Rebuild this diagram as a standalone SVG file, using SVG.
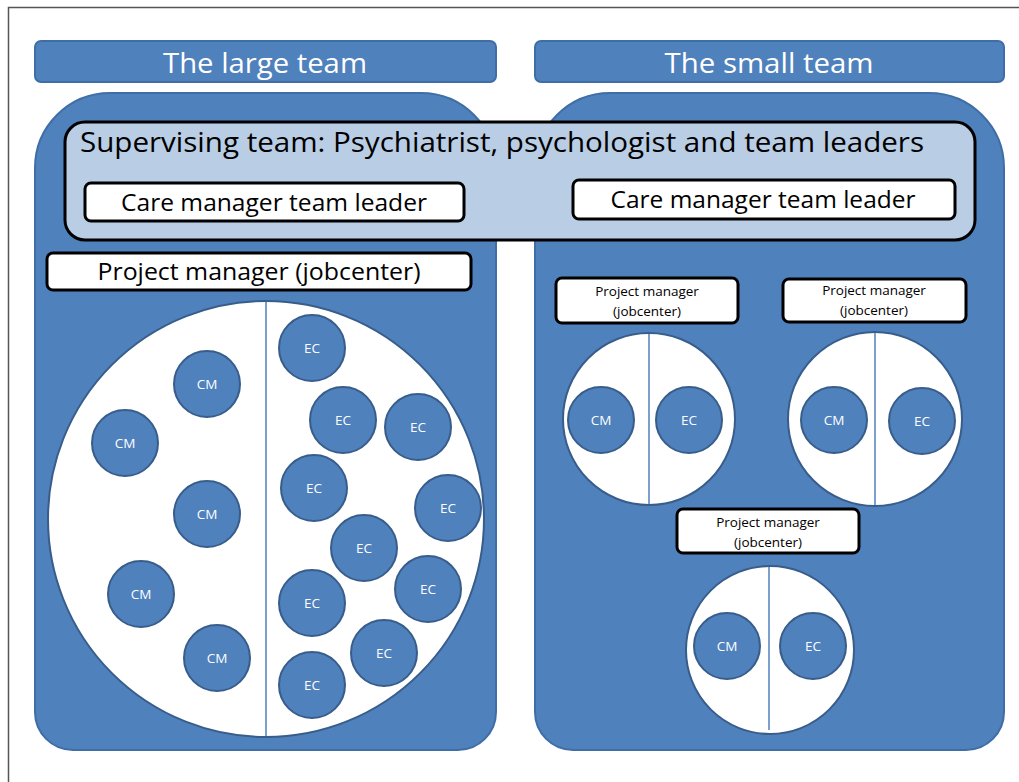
<svg xmlns="http://www.w3.org/2000/svg" width="1019" height="782" viewBox="0 0 1019 782">
<style>
text{font-family:"Open Sans","Liberation Sans",sans-serif}
.bar{fill:#4f81bd;stroke:#3f6ea6;stroke-width:2}
.cont{fill:#4f81bd;stroke:#3f6ea6;stroke-width:2}
.title{fill:#fff;font-size:28px;text-anchor:middle}
.box{fill:#fff;stroke:#000;stroke-width:3}
.lbl{fill:#000;font-size:23px;text-anchor:middle}
.sm{fill:#000;font-size:13.5px;text-anchor:middle}
.pool{fill:#fff;stroke:#385d8a;stroke-width:2}
.div{stroke:#4f81bd;stroke-width:1.5}
.p{fill:#4f81bd;stroke:#385d8a;stroke-width:2}
.pt{fill:#fff;font-size:13.5px;text-anchor:middle}
</style>
<rect x="0" y="0" width="1019" height="782" fill="#fff"/>
<path d="M8.5 782 V7.5 H1019" fill="none" stroke="#555" stroke-width="1.5"/>

<g id="title-large"><rect class="bar" x="35" y="41" width="461" height="41" rx="6"/><text class="title" x="265" y="73" textLength="204" lengthAdjust="spacingAndGlyphs">The large team</text></g>
<g id="title-small"><rect class="bar" x="535" y="41" width="469" height="41" rx="6"/><text class="title" x="769" y="73" textLength="209" lengthAdjust="spacingAndGlyphs">The small team</text></g>

<g id="large-team"><path class="cont" d="M35 168 A75 75 0 0 1 110 93 H421 A75 75 0 0 1 496 168 V712 A38 38 0 0 1 458 750 H73 A38 38 0 0 1 35 712 Z"/></g>
<g id="small-team"><path class="cont" d="M535 168 A75 75 0 0 1 610 93 H929 A75 75 0 0 1 1004 168 V712 A38 38 0 0 1 966 750 H573 A38 38 0 0 1 535 712 Z"/></g>

<g id="supervising"><rect x="65" y="122" width="910" height="118" rx="20" fill="#b9cde5" stroke="#000" stroke-width="3"/><text x="80" y="152" font-size="28" fill="#000" textLength="844" lengthAdjust="spacingAndGlyphs">Supervising team: Psychiatrist, psychologist and team leaders</text></g>
<g id="cm-leader-left"><rect class="box" x="85" y="183" width="379" height="38" rx="6"/><text class="lbl" x="274" y="211" textLength="306" lengthAdjust="spacingAndGlyphs">Care manager team leader</text></g>
<g id="cm-leader-right"><rect class="box" x="573" y="180" width="382" height="39" rx="6"/><text class="lbl" x="763" y="208" textLength="305" lengthAdjust="spacingAndGlyphs">Care manager team leader</text></g>

<g id="pm-large"><rect class="box" x="47" y="253" width="424" height="37" rx="6"/><text class="lbl" x="259" y="280" textLength="323" lengthAdjust="spacingAndGlyphs">Project manager (jobcenter)</text></g>

<g id="pool-large">
<circle class="pool" cx="266" cy="519" r="218"/>
<line class="div" x1="266" y1="302" x2="266" y2="736"/>
</g>
<g id="large-members">
<circle class="p" cx="207" cy="384" r="33"/><text class="pt" x="207" y="389">CM</text>
<circle class="p" cx="125" cy="443" r="33"/><text class="pt" x="125" y="448">CM</text>
<circle class="p" cx="207" cy="514" r="33"/><text class="pt" x="207" y="519">CM</text>
<circle class="p" cx="141" cy="594" r="33"/><text class="pt" x="141" y="599">CM</text>
<circle class="p" cx="217" cy="658" r="33"/><text class="pt" x="217" y="663">CM</text>
<circle class="p" cx="312" cy="348" r="33"/><text class="pt" x="312" y="353">EC</text>
<circle class="p" cx="343" cy="420" r="33"/><text class="pt" x="343" y="425">EC</text>
<circle class="p" cx="418" cy="427" r="33"/><text class="pt" x="418" y="432">EC</text>
<circle class="p" cx="314" cy="488" r="33"/><text class="pt" x="314" y="493">EC</text>
<circle class="p" cx="448" cy="508" r="33"/><text class="pt" x="448" y="513">EC</text>
<circle class="p" cx="364" cy="548" r="33"/><text class="pt" x="364" y="553">EC</text>
<circle class="p" cx="312" cy="603" r="33"/><text class="pt" x="312" y="608">EC</text>
<circle class="p" cx="428" cy="589" r="33"/><text class="pt" x="428" y="594">EC</text>
<circle class="p" cx="384" cy="653" r="33"/><text class="pt" x="384" y="658">EC</text>
<circle class="p" cx="312" cy="685" r="33"/><text class="pt" x="312" y="690">EC</text>
</g>

<g id="pm-small-1"><rect class="box" x="556" y="278" width="182" height="45" rx="6"/><text class="sm" x="647" y="296">Project manager</text><text class="sm" x="647" y="316">(jobcenter)</text></g>
<g id="pm-small-2"><rect class="box" x="783" y="279" width="183" height="43" rx="6"/><text class="sm" x="874" y="295">Project manager</text><text class="sm" x="874" y="315">(jobcenter)</text></g>
<g id="pm-small-3"><rect class="box" x="677" y="509" width="182" height="44" rx="6"/><text class="sm" x="768" y="527">Project manager</text><text class="sm" x="768" y="547">(jobcenter)</text></g>

<g id="pool-small-1"><circle class="pool" cx="649" cy="419" r="86"/><line class="div" x1="649" y1="334" x2="649" y2="504"/>
<circle class="p" cx="601" cy="420" r="33"/><text class="pt" x="601" y="425">CM</text>
<circle class="p" cx="689" cy="420" r="33"/><text class="pt" x="689" y="425">EC</text></g>
<g id="pool-small-2"><circle class="pool" cx="875" cy="419" r="87"/><line class="div" x1="875" y1="333" x2="875" y2="505"/>
<circle class="p" cx="834" cy="420" r="33"/><text class="pt" x="834" y="425">CM</text>
<circle class="p" cx="922" cy="421" r="33"/><text class="pt" x="922" y="426">EC</text></g>
<g id="pool-small-3"><circle class="pool" cx="770" cy="650" r="84"/><line class="div" x1="769" y1="567" x2="769" y2="730"/>
<circle class="p" cx="727" cy="646" r="33"/><text class="pt" x="727" y="651">CM</text>
<circle class="p" cx="813" cy="646" r="33"/><text class="pt" x="813" y="651">EC</text></g>
<g id="connectors"></g>
</svg>
